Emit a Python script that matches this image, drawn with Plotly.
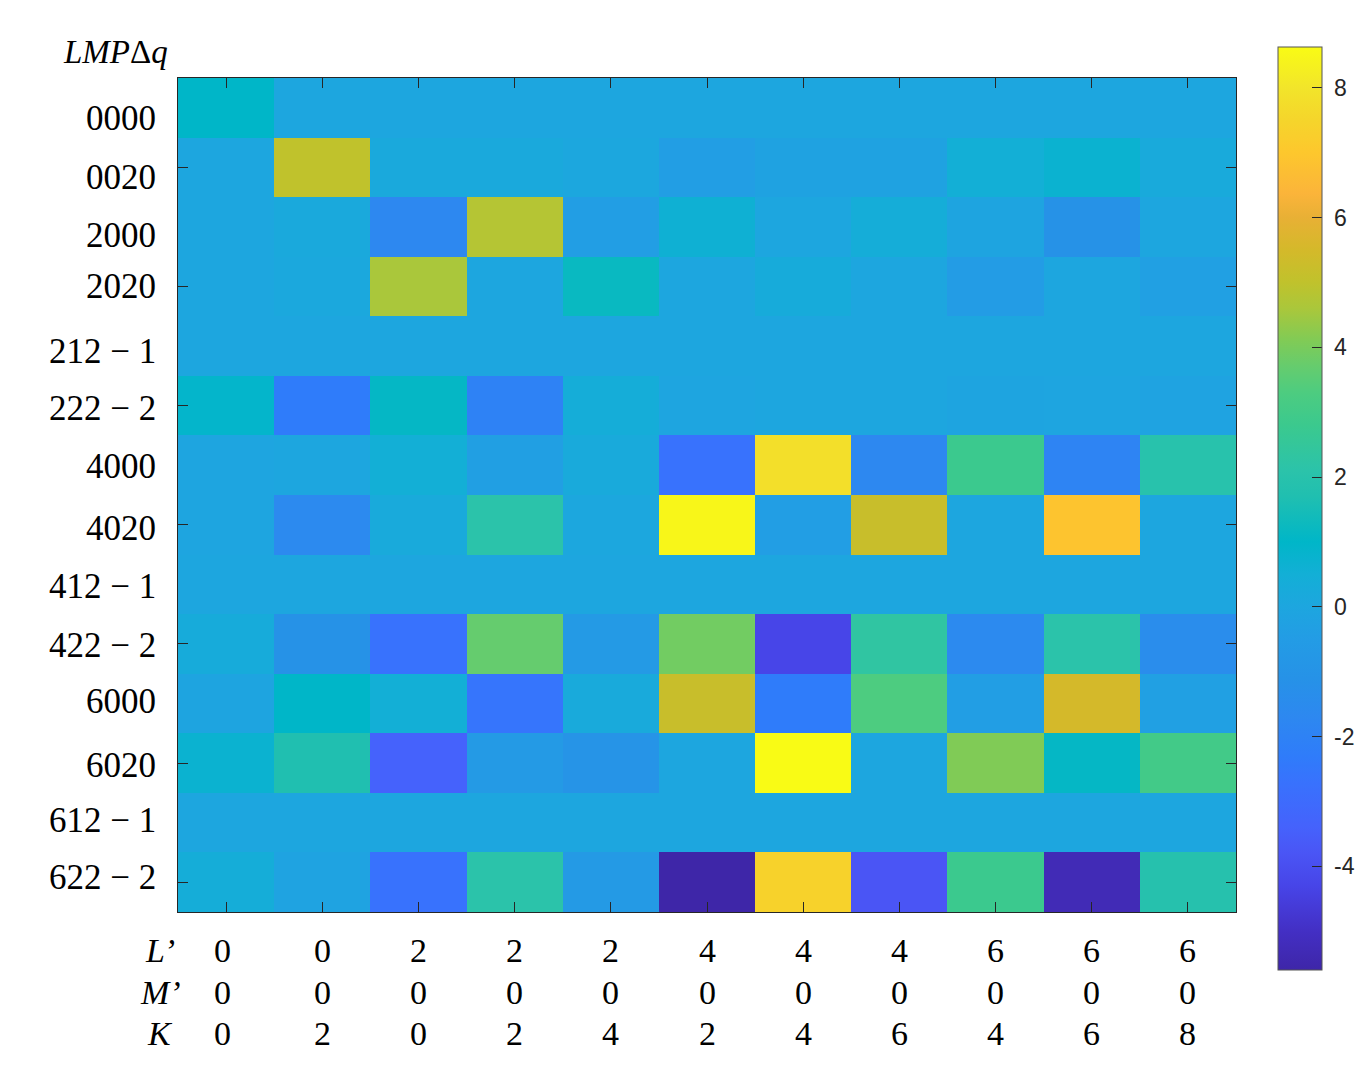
import plotly.graph_objects as go

# row / column labels
row_labels = ['0000', '0020', '2000', '2020', '212 − 1', '222 − 2', '4000',
              '4020', '412 − 1', '422 − 2', '6000', '6020', '612 − 1', '622 − 2']
L_prime = [0, 0, 2, 2, 2, 4, 4, 4, 6, 6, 6]
M_prime = [0, 0, 0, 0, 0, 0, 0, 0, 0, 0, 0]
K_vals = [0, 2, 0, 2, 4, 2, 4, 6, 4, 6, 8]

# cell values, one list per row
z_values = [
    [1.0, 0, 0, 0, 0, 0, 0, 0, 0, 0, 0],
    [0, 5.0, 0.15, 0.15, 0.05, -0.4, -0.2, -0.2, 0.5, 0.7, 0.2],
    [0, 0.15, -1.7, 4.8, -0.4, 0.6, 0, 0.4, -0.1, -1.1, 0],
    [0, 0.1, 4.6, 0, 1.2, 0, 0.3, 0, -0.5, 0, -0.3],
    [0, 0, 0, 0, 0, 0, 0, 0, 0, 0, 0],
    [0.9, -2.3, 1.1, -2.0, 0.4, -0.05, 0, 0, -0.1, -0.05, -0.15],
    [-0.05, 0, 0.5, -0.35, 0.2, -2.7, 7.8, -1.7, 2.8, -1.9, 2.0],
    [-0.05, -1.6, 0.2, 2.1, 0.05, 8.5, -0.4, 5.2, 0, 6.9, 0],
    [0, 0, 0, 0, 0, 0, 0, 0, 0, 0, 0],
    [0.3, -1.1, -2.7, 3.7, -0.6, 3.9, -4.3, 2.3, -1.6, 2.1, -1.4],
    [-0.1, 1.0, 0.5, -2.6, 0.2, 5.2, -2.3, 3.3, -0.4, 5.5, -0.3],
    [0.7, 1.7, -3.4, -0.6, -1.0, 0, 8.63, 0, 4.1, 1.1, 3.0],
    [0, 0, 0, 0, 0, 0, 0, 0, 0, 0, 0],
    [0.4, -0.15, -2.7, 2.1, -0.6, -5.6, 7.4, -3.8, 2.8, -5.3, 1.9],
]

cbar_ticks = [-4, -2, 0, 2, 4, 6, 8]
zmin, zmax = -5.6, 8.63

# parula-like colormap, anchored by value
parula_stops = [
    (-5.6, '#3E26A8'), (-5.0, '#432FC4'), (-4.3, '#4745E8'), (-3.8, '#4A55F5'),
    (-3.4, '#4562FC'), (-2.7, '#3872FD'), (-2.3, '#2F7CFA'), (-1.7, '#2D88F0'),
    (-1.1, '#2692E7'), (-0.5, '#239CE5'), (0.0, '#1DA6DF'), (0.5, '#13AFD6'),
    (1.0, '#00B6C8'), (1.7, '#20BFB0'), (2.1, '#2BC3AA'), (2.8, '#3BC98E'),
    (3.3, '#4DCC80'), (3.7, '#65CC6E'), (4.1, '#80CB56'), (4.6, '#AAC73B'),
    (5.0, '#C0C22C'), (5.5, '#D4B92A'), (6.0, '#E8B035'), (6.37, '#FBB43A'),
    (7.0, '#FDC72D'), (7.5, '#F5D52B'), (8.0, '#F2E52A'), (8.63, '#F9FB15'),
]
colorscale = [[(v - zmin) / (zmax - zmin), c] for v, c in parula_stops]

serif = 'Liberation Serif'
axis_col = '#262626'

# plot box in pixels: x 178..1236, y 78..912 (page has an 8px body margin)
plot_h = 912 - 78
plot_w = 1236 - 178

# the hand-placed row labels sit a little off the row centres
label_nudge = [-11, -10, -9, 0, -5, -3, -1, -4, -2, -2, 2, -2, 2, 5]

fig = go.Figure()
fig.add_trace(go.Heatmap(
    z=z_values,
    x=list(range(len(L_prime))),
    y=list(range(len(row_labels))),
    zmin=zmin, zmax=zmax,
    colorscale=colorscale,
    colorbar=dict(
        x=(1278 - 178) / plot_w, xanchor='left', xpad=0,
        y=(912 - 970) / plot_h, yanchor='bottom', ypad=0,
        lenmode='pixels', len=923, thickness=44,
        outlinewidth=1, outlinecolor='#555555',
        tickvals=cbar_ticks, ticktext=[' ' + str(t) for t in cbar_ticks],
        ticks='inside', ticklen=10, tickcolor=axis_col,
        tickfont=dict(family='Liberation Sans', size=23, color=axis_col),
    ),
    hovertemplate='%{z}<extra></extra>',
))

fig.update_xaxes(
    range=[-0.5, 10.5], tickvals=list(range(11)), showticklabels=False,
    ticks='inside', ticklen=10, tickcolor=axis_col,
    showline=True, linecolor=axis_col, linewidth=1, mirror='ticks',
    showgrid=False, zeroline=False,
)
fig.update_yaxes(
    range=[13.5, -0.5], tickvals=[1, 3, 5, 7, 9, 11, 13], showticklabels=False,
    ticks='inside', ticklen=10, tickcolor=axis_col,
    showline=True, linecolor=axis_col, linewidth=1, mirror='ticks',
    showgrid=False, zeroline=False,
)

# row labels on the left
for i, lab in enumerate(row_labels):
    fig.add_annotation(
        x=0, xref='paper', xanchor='right', xshift=-20,
        y=i, yref='y', yanchor='middle', yshift=label_nudge[i],
        text=lab, showarrow=False,
        font=dict(family=serif, size=35, color='black'),
    )

fig.add_annotation(
    x=0, xref='paper', xanchor='right', xshift=-8,
    y=1, yref='paper', yanchor='middle', yshift=26,
    text='<i>LMP</i>Δ<i>q</i>', showarrow=False,
    font=dict(family=serif, size=33, color='black'),
)

# quantum-number rows under the map
bottom_rows = [('L’', L_prime, -38), ('M’', M_prime, -80), ('K', K_vals, -121)]
for name, vals, dy in bottom_rows:
    fig.add_annotation(
        x=0, xref='paper', xanchor='center', xshift=-18,
        y=0, yref='paper', yanchor='middle', yshift=dy,
        text=f'<i>{name}</i>', showarrow=False,
        font=dict(family=serif, size=34, color='black'),
    )
    for j, v in enumerate(vals):
        fig.add_annotation(
            x=j, xref='x', xanchor='center', xshift=-4 if j == 0 else 0,
            y=0, yref='paper', yanchor='middle', yshift=dy,
            text=str(v), showarrow=False,
            font=dict(family=serif, size=34, color='black'),
        )

fig.update_layout(
    width=1358, height=1068,
    margin=dict(l=170, r=130, t=70, b=164, autoexpand=False),
    plot_bgcolor='white', paper_bgcolor='white',
    showlegend=False,
)

fig.write_html('out.html')
